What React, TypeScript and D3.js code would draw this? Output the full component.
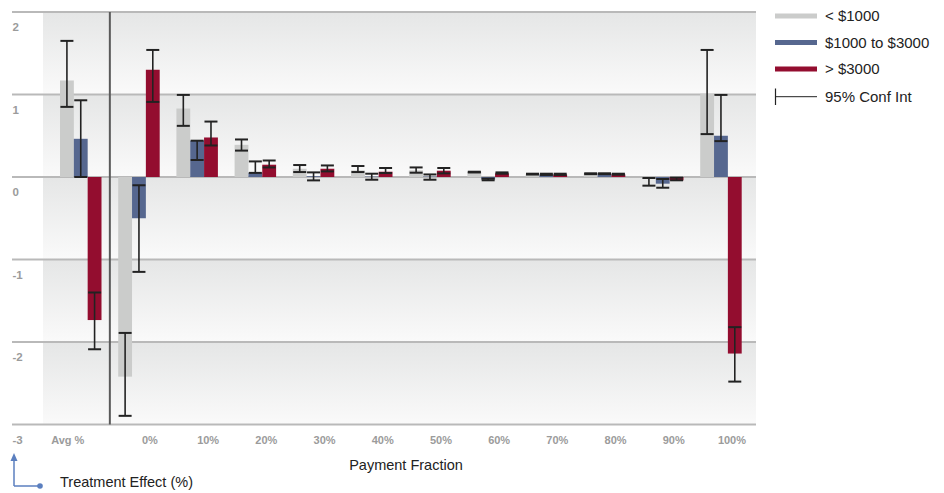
import React from "react";
import * as d3 from "d3";

const categories = ["Avg %", "0%", "10%", "20%", "30%", "40%", "50%", "60%", "70%", "80%", "90%", "100%"];
const seriesNames = ["< $1000", "$1000 to $3000", "> $3000"];
const seriesColors = ["#cbcccb", "#56678f", "#930d2f"];

const lowVal = [1.17, -2.42, 0.83, 0.39, 0.1, 0.08, 0.08, 0.06, 0.031, 0.04, -0.02, 1.01];
const lowLo = [0.85, -2.895, 0.62, 0.32, 0.06, 0.06, 0.052, 0.055, 0.03, 0.035, -0.105, 0.52];
const lowHi = [1.65, -1.89, 0.995, 0.455, 0.145, 0.133, 0.116, 0.064, 0.04, 0.045, -0.012, 1.54];

const midVal = [0.463, -0.5, 0.44, 0.052, 0.01, 0.005, 0.005, -0.029, 0.028, 0.04, -0.081, 0.5];
const midLo = [0.0, -1.15, 0.206, 0.05, -0.041, -0.033, -0.033, -0.04, 0.025, 0.035, -0.13, 0.435];
const midHi = [0.93, -0.1, 0.44, 0.189, 0.056, 0.04, 0.031, -0.02, 0.04, 0.045, -0.024, 0.995];

const highVal = [-1.734, 1.3, 0.479, 0.149, 0.1, 0.064, 0.076, 0.044, 0.028, 0.031, -0.041, -2.14];
const highLo = [-2.088, 0.91, 0.382, 0.116, 0.068, 0.048, 0.044, 0.04, 0.025, 0.028, -0.04, -2.48];
const highHi = [-1.4, 1.54, 0.672, 0.2, 0.14, 0.109, 0.109, 0.056, 0.04, 0.04, -0.008, -1.82];

const yTicks = [2, 1, 0, -1, -2, -3];

const FONT = "'Liberation Sans', Arial, Helvetica, sans-serif";

export default function App() {
  const W = 944;
  const H = 493;
  const y = d3.scaleLinear().domain([-3, 2]).range([424.5, 12]);
  const x = d3.scaleBand<string>().domain(categories).range([60, 741.7]).paddingInner(0.287).paddingOuter(0);
  const sub = d3.scaleBand<number>().domain([0, 1, 2]).range([0, x.bandwidth()]);
  const bw = sub.bandwidth();
  const plotLeft = 43;
  const plotRight = 756;
  const gridLeft = 12;

  const series = [
    { v: lowVal, lo: lowLo, hi: lowHi },
    { v: midVal, lo: midLo, hi: midHi },
    { v: highVal, lo: highLo, hi: highHi },
  ];

  const sepX = ((x("Avg %") as number) + x.bandwidth() + (x("0%") as number)) / 2;

  const bands = d3.pairs(yTicks);

  return (
    <svg width={W} height={H} style={{ position: "absolute", left: 0, top: 0, display: "block" }} fontFamily={FONT}>
      <defs>
        <linearGradient id="bandGrad" x1="0" y1="0" x2="0" y2="1">
          <stop offset="0%" stopColor="#e5e6e6" />
          <stop offset="100%" stopColor="#fafafa" />
        </linearGradient>
      </defs>
      <rect x={0} y={0} width={W} height={H} fill="#ffffff" />
      {bands.map(([a, b], i) => (
        <rect key={i} x={plotLeft} y={y(a)} width={plotRight - plotLeft} height={y(b) - y(a)} fill="url(#bandGrad)" />
      ))}
      {yTicks.map((t) => (
        <g key={t}>
          <line x1={gridLeft} x2={plotRight} y1={y(t)} y2={y(t)} stroke="#b9b9b9" strokeWidth={2} />
          <text x={12.5} y={y(t) + 19} fontSize={11.5} fontWeight="bold" fill="#9b9b9b">
            {t}
          </text>
        </g>
      ))}
      <line x1={sepX} x2={sepX} y1={y(2)} y2={y(-3)} stroke="#5a5a5a" strokeWidth={2} />
      {categories.map((c, ci) => {
        const gx = x(c) as number;
        return (
          <g key={c}>
            {series.map((s, si) => {
              const bx = gx + (sub(si) as number);
              const v = s.v[ci];
              return (
                <rect
                  key={si}
                  x={bx}
                  y={Math.min(y(v), y(0))}
                  width={bw}
                  height={Math.abs(y(v) - y(0))}
                  fill={seriesColors[si]}
                />
              );
            })}
            {series.map((s, si) => {
              const cx = gx + (sub(si) as number) + bw / 2;
              const lo = y(s.lo[ci]);
              const hi = y(s.hi[ci]);
              return (
                <g key={"e" + si} stroke="#222" strokeWidth={1.6}>
                  <line x1={cx} x2={cx} y1={hi} y2={lo} />
                  <line x1={cx - 6.5} x2={cx + 6.5} y1={hi} y2={hi} strokeWidth={2} />
                  <line x1={cx - 6.5} x2={cx + 6.5} y1={lo} y2={lo} strokeWidth={2} />
                </g>
              );
            })}
            <text
              x={gx + x.bandwidth() / 2 + (ci === 0 ? -13 : 11)}
              y={444}
              fontSize={11}
              fontWeight="bold"
              fill="#9b9b9b"
              textAnchor="middle"
            >
              {c}
            </text>
          </g>
        );
      })}
      <text x={406} y={470} fontSize={14.5} fill="#222" textAnchor="middle">
        Payment Fraction
      </text>
      <g stroke="#5b7fbf" strokeWidth={1.5} fill="none">
        <line x1={14} x2={14} y1={459} y2={486} />
        <line x1={14} x2={39} y1={486} y2={486} />
      </g>
      <path d="M14,453 L10.5,461 L17.5,461 Z" fill="#5b7fbf" />
      <circle cx={40} cy={486} r={2.8} fill="#5b7fbf" />
      <text x={60} y={487} fontSize={14.5} fill="#222">
        Treatment Effect (%)
      </text>
      <g>
        {seriesNames.map((n, i) => (
          <g key={n}>
            <rect x={775} y={16 + i * 26.5 - 2.5} width={42} height={5} fill={seriesColors[i]} />
            <text x={825} y={16 + i * 26.5 + 5} fontSize={15} fill="#222">
              {n}
            </text>
          </g>
        ))}
        <line x1={775.5} x2={775.5} y1={88.5} y2={105} stroke="#222" strokeWidth={1.2} />
        <line x1={775} x2={817} y1={96.7} y2={96.7} stroke="#222" strokeWidth={1} />
        <text x={825} y={96.7 + 5} fontSize={15} fill="#222">
          95% Conf Int
        </text>
      </g>
    </svg>
  );
}
